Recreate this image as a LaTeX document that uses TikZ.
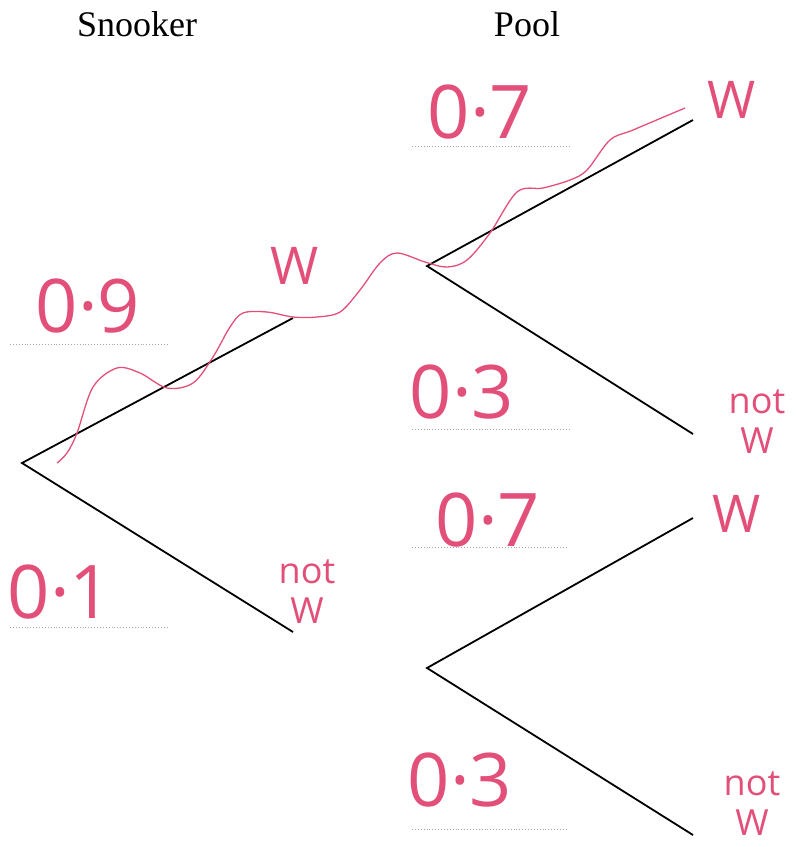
\documentclass[tikz,border=0pt]{standalone}
\usepackage{fontspec}
\setmainfont{Liberation Serif}
\newfontfamily\handfont{Open Sans}
\definecolor{penpink}{HTML}{E2507A}

\begin{document}
\begin{tikzpicture}[x=1pt, y=-1pt,
  branch/.style={black, line width=1.8pt},
  ansline/.style={black!35, dotted, line width=0.9pt},
  prob/.style={penpink, font=\handfont\fontsize{74}{80}\selectfont, inner sep=0pt},
  outcome/.style={penpink, font=\handfont\fontsize{52}{56}\selectfont, inner sep=0pt},
  notw/.style={penpink, font=\handfont\fontsize{36}{40}\selectfont, align=center, inner sep=0pt},
  heading/.style={font=\fontsize{36}{40}\selectfont, inner sep=0pt},
  route/.style={penpink, line width=1.3pt}]

  \useasboundingbox (0,0) rectangle (799,847);

  % headings
  \node[heading] (snooker) at (137,24) {Snooker};
  \node[heading] (pool) at (527,24) {Pool};

  % tree points
  \coordinate (root) at (22,463);
  \coordinate (sW)   at (293,318);
  \coordinate (sN)   at (293,632);
  \coordinate (pA)   at (427,266);
  \coordinate (pAW)  at (693,120);
  \coordinate (pAN)  at (693,434);
  \coordinate (pB)   at (427,668);
  \coordinate (pBW)  at (693,518);
  \coordinate (pBN)  at (693,835);

  % branches
  \draw[branch] (sW) -- (root) -- (sN);
  \draw[branch] (pAW) -- (pA) -- (pAN);
  \draw[branch] (pBW) -- (pB) -- (pBN);

  % answer lines
  \draw[ansline] (10,344) -- (167,344);
  \draw[ansline] (10,627) -- (167,627);
  \draw[ansline] (412,146) -- (570,146);
  \draw[ansline] (412,429) -- (570,429);
  \draw[ansline] (412,547) -- (567,547);
  \draw[ansline] (412,829) -- (567,829);

  % probabilities
  \node[prob] (p09) at (88,306) {0·9};
  \node[prob] (p01) at (60,592) {0·1};
  \node[prob] (p07a) at (480,112) {0·7};
  \node[prob] (p03a) at (462,392) {0·3};
  \node[prob] (p07b) at (488,520) {0·7};
  \node[prob] (p03b) at (460,780) {0·3};

  % outcomes
  \node[outcome] (lsW) at (295,266) {W};
  \node[notw] (lsN) at (307,592) {not\\W};
  \node[outcome] (lpAW) at (732,100) {W};
  \node[notw] (lpAN) at (757,422) {not\\W};
  \node[outcome] (lpBW) at (737,514) {W};
  \node[notw] (lpBN) at (752,804) {not\\W};

  % wavy route W then W
  \draw[route] plot[smooth, tension=0.55] coordinates {
    (57,463) (67,453) (77,433) (93,387) (117,368) (140,373) (167,388)
    (193,383) (213,357) (230,327) (243,313) (267,312) (293,317) (317,317)
    (340,312) (360,290) (380,263) (397,253) (425,262) (447,267) (467,260)
    (490,233) (517,192) (543,188) (570,180) (587,170) (610,140) (633,130)
    (685,108)};
\end{tikzpicture}
\end{document}
